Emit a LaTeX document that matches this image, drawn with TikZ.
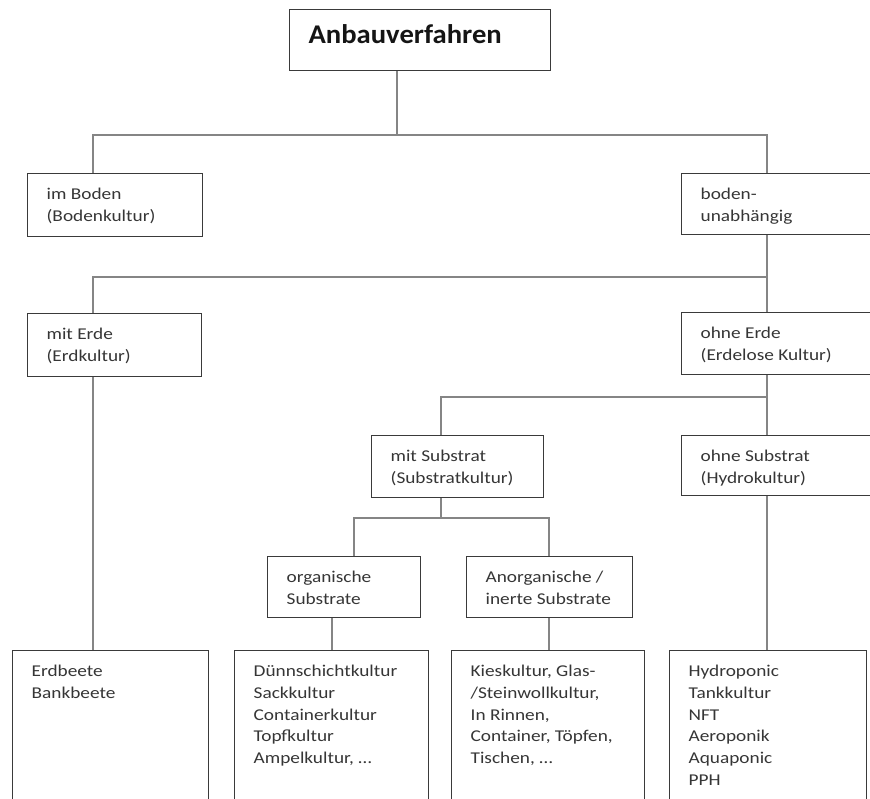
\documentclass[tikz,border=0pt]{standalone}
\usepackage{fontspec}
\newfontfamily\lab[FakeStretch=1.17]{Carlito}
\newfontfamily\ttlfont[FakeStretch=1.06]{Carlito}
\definecolor{boxc}{HTML}{3A3A3A}
\definecolor{connc}{HTML}{858585}
\definecolor{txtc}{HTML}{363636}
\definecolor{ttlc}{HTML}{151515}
\newcommand\bxtext[4]{\parbox[t][#1][t]{#2}{\leftskip=19pt\rightskip=0pt plus 1fil\parfillskip=0pt plus 1fil\vspace*{#3}\strut #4}}
\begin{document}
\begin{tikzpicture}[x=1pt,y=-1pt,
  box/.style={draw=boxc,line width=1.3pt,anchor=north west,inner sep=0pt,text=txtc,font=\lab\fontsize{16.5}{21.7}\selectfont},
  titlebox/.style={box,text=ttlc,font=\ttlfont\fontsize{27}{32}\selectfont\bfseries},
  conn/.style={draw=connc,line width=1.8pt}]
\useasboundingbox (0,0) rectangle (870,798);
\fill[white] (0,0) rectangle (870,798);
\clip (0,0) rectangle (870,798);

% boxes
\node[titlebox] (T) at (289,9) {\bxtext{61pt}{261pt}{11.6pt}{Anbauverfahren}};
\node[box] (B) at (27,173) {\bxtext{63pt}{175pt}{10.8pt}{im Boden\\(Bodenkultur)}};
\node[box] (U) at (681,173) {\bxtext{61pt}{220pt}{10.8pt}{boden-\\unabhängig}};
\node[box] (E) at (27,313) {\bxtext{63pt}{174pt}{10.8pt}{mit Erde\\(Erdkultur)}};
\node[box] (O) at (681,312) {\bxtext{62pt}{220pt}{10.8pt}{ohne Erde\\(Erdelose Kultur)}};
\node[box] (S) at (371,435) {\bxtext{62pt}{172pt}{10.8pt}{mit Substrat\\(Substratkultur)}};
\node[box] (H) at (681,435) {\bxtext{60pt}{220pt}{10.8pt}{ohne Substrat\\(Hydrokultur)}};
\node[box] (Or) at (267,556) {\bxtext{61pt}{153pt}{10.8pt}{organische\\Substrate}};
\node[box] (An) at (466,556) {\bxtext{61pt}{166pt}{10.8pt}{Anorganische /\\inerte Substrate}};
\node[box] (L1) at (12,650) {\bxtext{200pt}{196pt}{10.8pt}{Erdbeete\\Bankbeete}};
\node[box] (L2) at (234,650) {\bxtext{200pt}{194pt}{10.8pt}{Dünnschichtkultur\\Sackkultur\\Containerkultur\\Topfkultur\\Ampelkultur, …}};
\node[box] (L3) at (451,650) {\bxtext{200pt}{193pt}{10.8pt}{Kieskultur, Glas-\\/Steinwollkultur,\\In Rinnen,\\Container, Töpfen,\\Tischen, …}};
\node[box] (L4) at (669,650) {\bxtext{200pt}{197pt}{10.8pt}{Hydroponic\\Tankkultur\\NFT\\Aeroponik\\Aquaponic\\PPH}};

% junction points
\coordinate (j1) at (397,135);
\coordinate (cB) at (93,135);
\coordinate (cU) at (767,135);
\coordinate (k1) at (767,277);
\coordinate (kE) at (93,277);
\coordinate (m1) at (767,397);
\coordinate (mS) at (441,397);
\coordinate (n1) at (441,518);
\coordinate (nOr) at (354,518);
\coordinate (nAn) at (549,518);
\coordinate (p1) at (93,630);
\coordinate (p2) at (332,630);
\coordinate (p3) at (549,630);
\coordinate (p4) at (767,630);

% connectors
\draw[conn] (T.south -| j1) -- (j1);
\draw[conn] (B.north -| cB) -- (cB) -- (cU) -- (U.north -| cU);
\draw[conn] (U.south -| k1) -- (k1);
\draw[conn] (E.north -| kE) -- (kE) -- (k1) -- (O.north -| k1);
\draw[conn] (O.south -| m1) -- (m1) -- (H.north -| m1);
\draw[conn] (m1) -- (mS) -- (S.north -| mS);
\draw[conn] (S.south -| n1) -- (n1);
\draw[conn] (Or.north -| nOr) -- (nOr) -- (nAn) -- (An.north -| nAn);
\draw[conn] (E.south -| p1) -- (L1.north -| p1);
\draw[conn] (Or.south -| p2) -- (L2.north -| p2);
\draw[conn] (An.south -| p3) -- (L3.north -| p3);
\draw[conn] (H.south -| p4) -- (L4.north -| p4);
\end{tikzpicture}
\end{document}
